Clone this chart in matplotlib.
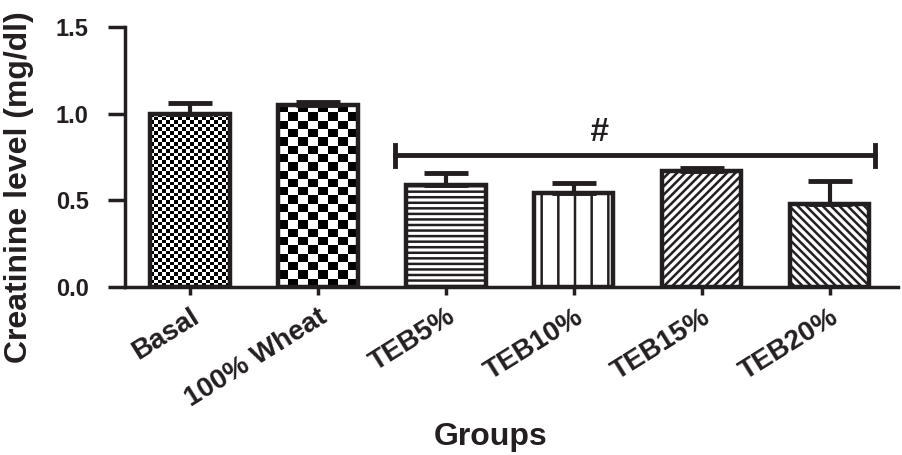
import matplotlib
matplotlib.use("Agg")
import matplotlib.pyplot as plt
import matplotlib.transforms as mtransforms
import numpy as np

# data
groups = ["Basal", "100% Wheat", "TEB5%", "TEB10%", "TEB15%", "TEB20%"]
means = [1.00, 1.05, 0.59, 0.54, 0.67, 0.48]
errs = [0.06, 0.015, 0.07, 0.06, 0.015, 0.13]
hatches = [None, None, "---", "|", "////", "\\\\\\\\"]
sig_from, sig_to, sig_y = 2, 5, 0.76

plt.rcParams["font.family"] = ["Liberation Sans", "DejaVu Sans"]
plt.rcParams["font.weight"] = "bold"
plt.rcParams["hatch.linewidth"] = 1.8
plt.rcParams["hatch.color"] = "#231f20"

fig = plt.figure(figsize=(9.03, 4.55), dpi=100)
ax = fig.add_axes([0.138, 0.369, 0.856, 0.572])

x = np.arange(len(groups))
bars = ax.bar(x, means, width=0.62, color="white", edgecolor="#231f20",
              linewidth=3.2, zorder=2)
for b, h in zip(bars, hatches):
    if h:
        b.set_hatch(h)

# checkerboard fills for the first two bars
def checker(bar, nx, ny):
    img = (np.add.outer(np.arange(ny), np.arange(nx)) % 2).astype(float)
    x0, y0 = bar.get_x(), bar.get_y()
    bar.set_facecolor("none")
    im = ax.imshow(img, cmap="gray", vmin=0, vmax=1,
                   extent=[x0, x0 + bar.get_width(), y0, y0 + bar.get_height()],
                   aspect="auto", interpolation="nearest", zorder=1.5)
    im.set_clip_path(bar)

checker(bars[0], 20, 48)
checker(bars[1], 8, 22)

ax.errorbar(x, means, yerr=[np.zeros(len(errs)), errs], fmt="none",
            ecolor="#231f20", elinewidth=3, capsize=16, capthick=3.5, zorder=3)

# significance bar
ax.plot([sig_from - 0.4, sig_to + 0.35], [sig_y, sig_y], color="#231f20", lw=3.5)
ax.plot([sig_from - 0.4] * 2, [sig_y - 0.06, sig_y + 0.06], color="#231f20", lw=3.5)
ax.plot([sig_to + 0.35] * 2, [sig_y - 0.06, sig_y + 0.06], color="#231f20", lw=3.5)
ax.text(3.2, 0.89, "#", ha="center", va="center",
        fontsize=24, fontstyle="italic", fontweight="bold", color="#231f20")

ax.set_xlim(-0.51, 5.53)
ax.set_ylim(0, 1.5)
ax.set_yticks([0.0, 0.5, 1.0, 1.5])
ax.set_yticklabels(["0.0", "0.5", "1.0", "1.5"], fontsize=17, fontweight="bold")
ax.set_xticks(x)
ax.set_xticklabels(groups, rotation=32, ha="right", va="top", rotation_mode="anchor",
                   fontsize=20, fontweight="bold")
shift = mtransforms.ScaledTranslation(0.04, 0.06, fig.dpi_scale_trans)
for lab in ax.get_xticklabels():
    lab.set_transform(lab.get_transform() + shift)
ax.tick_params(axis="both", width=2.5, color="#231f20", labelcolor="#231f20")
ax.tick_params(axis="y", length=12, pad=14)
ax.tick_params(axis="x", length=6, pad=6)

for s in ["top", "right"]:
    ax.spines[s].set_visible(False)
for s in ["left", "bottom"]:
    ax.spines[s].set_linewidth(2.5)
    ax.spines[s].set_color("#231f20")

ax.set_ylabel("Creatinine level (mg/dl)", fontsize=23, fontweight="bold", color="#231f20")
ax.yaxis.label.set_va("center")
ax.yaxis.set_label_coords(-0.136, 0.385)
fig.text(0.543, 0.04, "Groups", ha="center", va="center", fontsize=23,
         fontweight="bold", color="#231f20")

fig.savefig("out.png", dpi=100)
